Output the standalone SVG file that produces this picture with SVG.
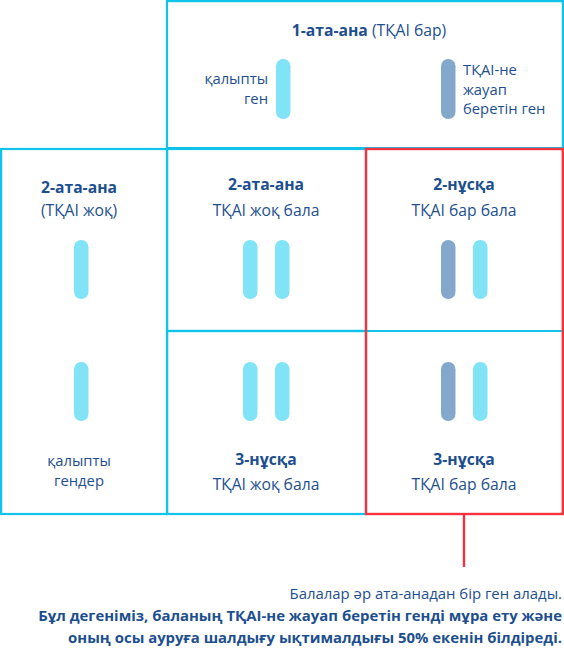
<svg xmlns="http://www.w3.org/2000/svg" width="564" height="650" viewBox="0 0 564 650">
<style>
.cy{fill:none;stroke:#0fc3ea;stroke-width:2.2}
.rd{fill:none;stroke:#f5333f;stroke-width:2.4}
.n{fill:#80e3f6}
.m{fill:#84a8cc}
text{font-family:"Open Sans","Noto Sans","Liberation Sans",sans-serif;font-size:15.7px;fill:#1d4f8f}
.nt{font-size:14.9px}
.ml{font-size:14.8px}
.b{font-weight:bold}
.c{text-anchor:middle}
.r{text-anchor:end}
</style>
<rect width="564" height="650" fill="#fff"/>
<g id="parent1">
<rect class="cy" x="167" y="1.1" width="395.9" height="147"/>
<text x="369" y="36" class="c"><tspan class="b">1-ата-ана</tspan> (ТҚАІ бар)</text>
<rect class="n" x="276" y="59" width="14.5" height="60" rx="7.2"/>
<rect class="m" x="441" y="59" width="14.5" height="60" rx="7.2"/>
<text x="268" y="84" class="r ml">қалыпты</text>
<text x="268" y="103.5" class="r ml">ген</text>
<text x="463" y="75" class="ml">ТҚАІ-не</text>
<text x="463" y="94.5" class="ml">жауап</text>
<text x="463" y="114" class="ml">беретін ген</text>
</g>
<g id="parent2">
<rect class="cy" x="1.1" y="149" width="166" height="365"/>
<text x="79" y="193" class="c b">2-ата-ана</text>
<text x="79" y="216" class="c">(ТҚАІ жоқ)</text>
<rect class="n" x="74" y="240" width="14.5" height="59" rx="7.2"/>
<rect class="n" x="74" y="362" width="14.5" height="59" rx="7.2"/>
<text x="79" y="466" class="c ml">қалыпты</text>
<text x="79" y="485.5" class="c ml">гендер</text>
</g>
<g id="cell-top-mid">
<rect class="cy" x="167" y="149" width="199" height="182"/>
<text x="266" y="190" class="c b">2-ата-ана</text>
<text x="266" y="216" class="c">ТҚАІ жоқ бала</text>
<rect class="n" x="243" y="240" width="14.5" height="59" rx="7.2"/>
<rect class="n" x="275" y="240" width="14.5" height="59" rx="7.2"/>
</g>
<g id="cell-bot-mid">
<rect class="cy" x="167" y="331" width="199" height="183"/>
<rect class="n" x="243" y="362" width="14.5" height="59" rx="7.2"/>
<rect class="n" x="275" y="362" width="14.5" height="59" rx="7.2"/>
<text x="266" y="465" class="c b">3-нұсқа</text>
<text x="266" y="490" class="c">ТҚАІ жоқ бала</text>
</g>
<g id="cell-top-right">
<line class="cy" x1="366" y1="331" x2="563" y2="331"/>
<text x="464" y="190" class="c b">2-нұсқа</text>
<text x="464" y="216" class="c">ТҚАІ бар бала</text>
<rect class="m" x="441" y="240" width="14.5" height="59" rx="7.2"/>
<rect class="n" x="473" y="240" width="14.5" height="59" rx="7.2"/>
</g>
<g id="cell-bot-right">
<rect class="m" x="441" y="362" width="14.5" height="59" rx="7.2"/>
<rect class="n" x="473" y="362" width="14.5" height="59" rx="7.2"/>
<text x="464" y="465" class="c b">3-нұсқа</text>
<text x="464" y="490" class="c">ТҚАІ  бар бала</text>
</g>
<g id="highlight">
<rect class="rd" x="366" y="149" width="196.8" height="365"/>
</g>
<g id="connectors">
<line class="rd" x1="464" y1="514" x2="464" y2="567"/>
</g>
<g id="note">
<text x="562" y="599" class="r nt">Балалар әр ата-анадан бір ген алады.</text>
<text x="562" y="621" class="r b nt">Бұл дегеніміз, баланың ТҚАІ-не жауап беретін генді мұра ету және</text>
<text x="562" y="643" class="r b nt">оның осы ауруға шалдығу ықтималдығы 50% екенін білдіреді.</text>
</g>
</svg>
